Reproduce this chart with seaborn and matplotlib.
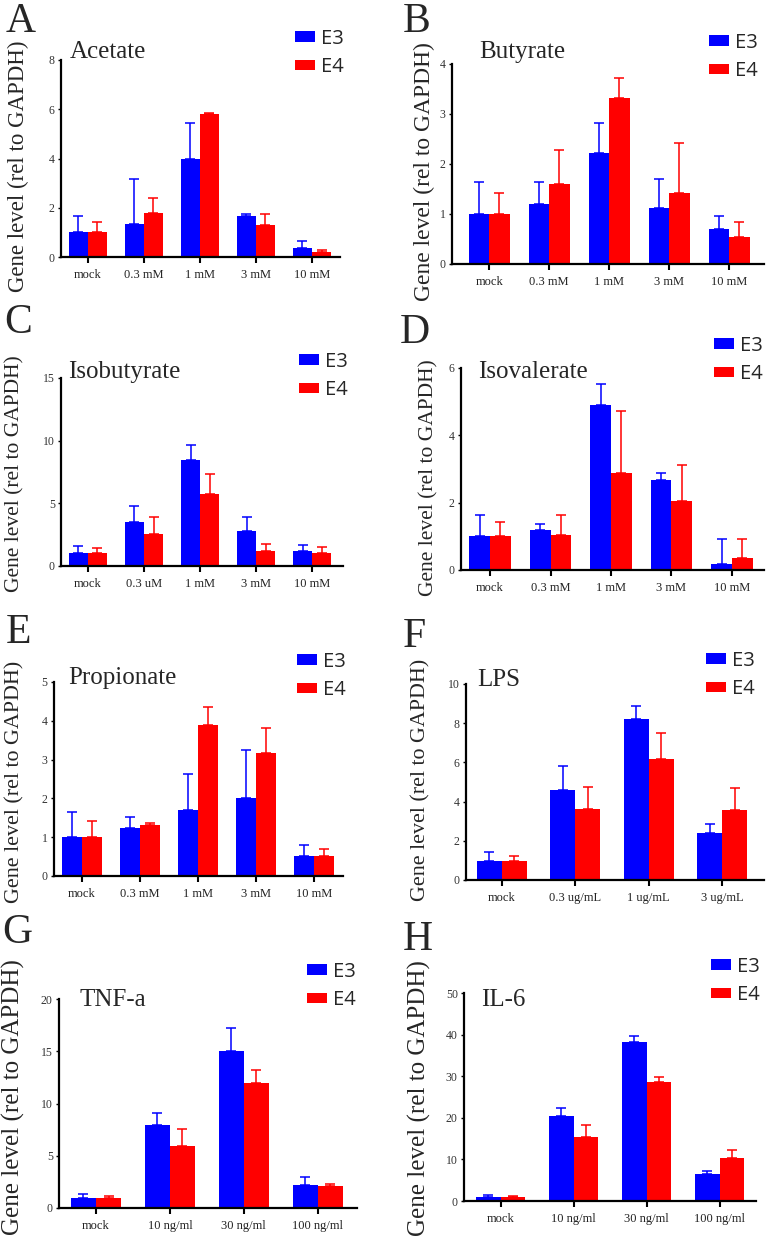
import pandas as pd
import seaborn as sns
import matplotlib.pyplot as plt
from matplotlib.patches import Patch

# ---------------- data ----------------
genotypes = ["E3", "E4"]
colors = {"E3": "#0000FF", "E4": "#FF0000"}

acetate_doses = ["mock", "0.3 mM", "1 mM", "3 mM", "10 mM"]
acetate_e3 = [1.0, 1.34, 3.98, 1.67, 0.38]
acetate_e3_top = [1.65, 3.15, 5.45, 1.76, 0.64]
acetate_e4 = [1.0, 1.78, 5.79, 1.29, 0.21]
acetate_e4_top = [1.43, 2.38, 5.83, 1.76, 0.29]

butyrate_doses = ["mock", "0.3 mM", "1 mM", "3 mM", "10 mM"]
butyrate_e3 = [1.0, 1.21, 2.23, 1.13, 0.71]
butyrate_e3_top = [1.65, 1.64, 2.83, 1.70, 0.97]
butyrate_e4 = [1.0, 1.61, 3.33, 1.42, 0.55]
butyrate_e4_top = [1.43, 2.29, 3.72, 2.43, 0.84]

isobutyrate_doses = ["mock", "0.3 uM", "1 mM", "3 mM", "10 mM"]
isobutyrate_e3 = [1.0, 3.54, 8.43, 2.79, 1.20]
isobutyrate_e3_top = [1.62, 4.79, 9.65, 3.88, 1.68]
isobutyrate_e4 = [1.0, 2.55, 5.77, 1.17, 1.06]
isobutyrate_e4_top = [1.42, 3.88, 7.34, 1.76, 1.52]

isovalerate_doses = ["mock", "0.3 mM", "1 mM", "3 mM", "10 mM"]
isovalerate_e3 = [1.0, 1.20, 4.90, 2.67, 0.18]
isovalerate_e3_top = [1.64, 1.37, 5.53, 2.88, 0.91]
isovalerate_e4 = [1.0, 1.04, 2.89, 2.05, 0.35]
isovalerate_e4_top = [1.42, 1.62, 4.72, 3.11, 0.92]

propionate_doses = ["mock", "0.3 mM", "1 mM", "3 mM", "10 mM"]
propionate_e3 = [1.0, 1.23, 1.69, 2.02, 0.51]
propionate_e3_top = [1.65, 1.53, 2.62, 3.24, 0.79]
propionate_e4 = [1.0, 1.32, 3.89, 3.17, 0.51]
propionate_e4_top = [1.43, 1.37, 4.35, 3.82, 0.69]

lps_doses = ["mock", "0.3 ug/mL", "1 ug/mL", "3 ug/mL"]
lps_e3 = [0.98, 4.59, 8.23, 2.41]
lps_e3_top = [1.43, 5.83, 8.89, 2.86]
lps_e4 = [0.98, 3.64, 6.19, 3.57]
lps_e4_top = [1.22, 4.73, 7.50, 4.68]

tnf_doses = ["mock", "10 ng/ml", "30 ng/ml", "100 ng/ml"]
tnf_e3 = [0.99, 7.97, 15.06, 2.23]
tnf_e3_top = [1.31, 9.09, 17.19, 2.97]
tnf_e4 = [0.99, 5.96, 11.99, 2.07]
tnf_e4_top = [1.18, 7.53, 13.24, 2.33]

il6_doses = ["mock", "10 ng/ml", "30 ng/ml", "100 ng/ml"]
il6_e3 = [1.04, 20.35, 38.14, 6.41]
il6_e3_top = [1.44, 22.36, 39.74, 7.29]
il6_e4 = [1.04, 15.30, 28.53, 10.42]
il6_e4_top = [1.28, 18.19, 29.73, 12.18]

# ---------------- layout (pixels in the 767x1238 figure) ----------------
W, H = 767, 1238
sns.set_style("ticks")
plt.rcParams['font.family'] = ['Liberation Serif', 'DejaVu Serif']

fig = plt.figure(figsize=(W / 100, H / 100), dpi=100)


def fx(x):
    return x / W


def fy(y):
    return 1 - y / H


panels = [
    # letter, title, doses, e3, e3_top, e4, e4_top, axes box (l, t, r, b), xlim, ymax, ystep,
    # letter pos, title pos, ylabel pos, ylabel size, legend pos
    ("A", "Acetate", acetate_doses, acetate_e3, acetate_e3_top, acetate_e4, acetate_e4_top,
     (61, 60, 340, 257), (-0.48, 4.5), 8, 2, (6, 32), (70, 52), (18, 166), 16.5, (295, 53)),
    ("B", "Butyrate", butyrate_doses, butyrate_e3, butyrate_e3_top, butyrate_e4, butyrate_e4_top,
     (452, 64, 764, 264), (-0.62, 4.58), 4, 1, (403, 32), (479, 52), (424, 172), 16.9, (709, 57)),
    ("C", "Isobutyrate", isobutyrate_doses, isobutyrate_e3, isobutyrate_e3_top, isobutyrate_e4,
     isobutyrate_e4_top, (61, 378, 343, 566), (-0.48, 4.55), 15, 5, (4, 333), (68, 372), (15, 474),
     15.5, (299, 376)),
    ("D", "Isovalerate", isovalerate_doses, isovalerate_e3, isovalerate_e3_top, isovalerate_e4,
     isovalerate_e4_top, (461, 368, 764, 570), (-0.48, 4.53), 6, 2, (400, 343), (478, 372),
     (429, 478), 15.5, (714, 360)),
    ("E", "Propionate", propionate_doses, propionate_e3, propionate_e3_top, propionate_e4,
     propionate_e4_top, (54, 682, 343, 876), (-0.48, 4.5), 5, 1, (6, 643), (68, 678), (15, 782),
     15.8, (297, 676)),
    ("F", "LPS", lps_doses, lps_e3, lps_e3_top, lps_e4, lps_e4_top,
     (466, 684, 764, 880), (-0.49, 3.57), 10, 2, (403, 647), (477, 680), (421, 780), 15.8, (706, 675)),
    ("G", "TNF-a", tnf_doses, tnf_e3, tnf_e3_top, tnf_e4, tnf_e4_top,
     (59, 999, 357, 1208), (-0.5, 3.53), 20, 5, (2, 943), (80, 1000), (13, 1097), 18, (307, 986)),
    ("H", "IL-6", il6_doses, il6_e3, il6_e3_top, il6_e4, il6_e4_top,
     (464, 993, 756, 1201), (-0.5, 3.5), 50, 10, (403, 950), (481, 1000), (419, 1098), 18, (711, 981)),
]

for (letter, title, doses, e3, e3_top, e4, e4_top, box, xlim, ymax, ystep,
     letter_pos, title_pos, ylab_pos, ylab_size, leg_pos) in panels:
    l, t, r, b = box
    ax = fig.add_axes([fx(l), fy(b), (r - l) / W, (b - t) / H])

    df = pd.DataFrame({
        "dose": doses * 2,
        "genotype": ["E3"] * len(doses) + ["E4"] * len(doses),
        "value": e3 + e4,
    })
    sns.barplot(data=df, x="dose", y="value", hue="genotype", order=doses,
                hue_order=genotypes, palette=colors, width=0.68, saturation=1,
                errorbar=None, legend=False, linewidth=0, ax=ax)

    # upper-only error bars (mean + SD), drawn behind the bars so the lower cap hides
    for cont, g, tops in zip(ax.containers, genotypes, [e3_top, e4_top]):
        for bar, top in zip(cont, tops):
            bar.set_zorder(2)
            xc = bar.get_x() + bar.get_width() / 2
            h = bar.get_height()
            ax.errorbar(xc, h, yerr=[[0], [top - h]], color=colors[g],
                        elinewidth=1.1, capsize=3.6, capthick=1.1, zorder=1)

    ax.set_xlim(*xlim)
    ax.set_ylim(0, ymax)
    ax.set_yticks(range(0, ymax + 1, ystep))
    ax.set_xlabel("")
    ax.set_ylabel("")
    sns.despine(ax=ax)
    for s in ["left", "bottom"]:
        ax.spines[s].set_linewidth(1.6)
        ax.spines[s].set_color("black")
        ax.spines[s].set_zorder(3)
    ax.tick_params(axis="x", length=4.5, width=1.5, pad=4, labelsize=9, color="black",
                   labelcolor="#222222")
    ax.tick_params(axis="y", length=2.5, width=1.0, pad=2, labelsize=8.5, color="black",
                   labelcolor="#333333")

    # panel letter, title and y label
    fig.text(fx(letter_pos[0]), fy(letter_pos[1]), letter, fontsize=30,
             ha="left", va="baseline")
    fig.text(fx(title_pos[0]), fy(title_pos[1]), title, fontsize=18,
             ha="left", va="center")
    fig.text(fx(ylab_pos[0]), fy(ylab_pos[1]), "Gene level (rel to GAPDH)",
             fontsize=ylab_size, rotation=90, ha="center", va="center")

    handles = [Patch(facecolor=colors[g], edgecolor="none") for g in genotypes]
    ax.legend(handles, genotypes, loc="center left",
              bbox_to_anchor=(fx(leg_pos[0]), fy(leg_pos[1])),
              bbox_transform=fig.transFigure, frameon=False, borderpad=0,
              borderaxespad=0, handlelength=1.0, handleheight=0.42,
              handletextpad=0.3, labelspacing=0.42,
              prop={"family": "Open Sans", "size": 14.5})

fig.savefig("out.png", dpi=100)
